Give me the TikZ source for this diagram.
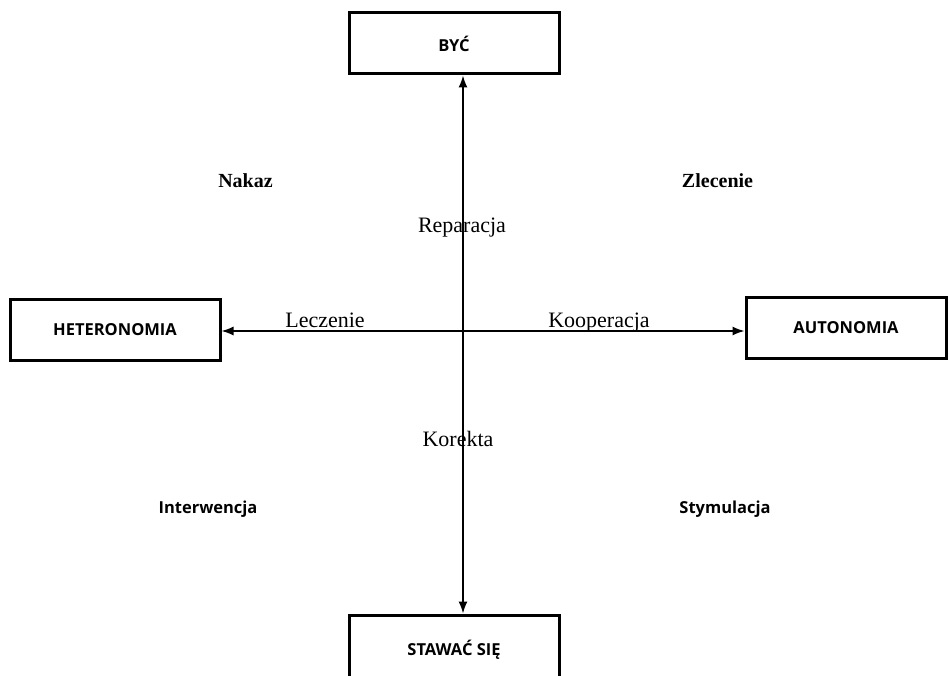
\documentclass[tikz,border=0pt]{standalone}
\usepackage{fontspec}
\newfontfamily\boxfont{Open Sans}
\newfontfamily\labfont{Liberation Serif}
\usetikzlibrary{arrows.meta}
\tikzset{<->/.style = {{Latex[length=12pt,width=9pt]}-{Latex[length=12pt,width=9pt]}}}

\begin{document}
\begin{tikzpicture}[x=1pt,y=-1pt,
    pole/.style={draw,line width=3pt,minimum width=210pt,minimum height=61pt,
        inner sep=0pt,font={\boxfont\bfseries\fontsize{16.5}{18}\selectfont}},
    quad/.style={font={\boxfont\bfseries\fontsize{16.5}{18}\selectfont}},
    quadserif/.style={font={\labfont\bfseries\fontsize{20}{22}\selectfont}},
    axlabel/.style={font={\labfont\fontsize{22}{24}\selectfont},inner sep=0pt,anchor=base},
    ]
    % Frame
    \clip (0,0) rectangle (949,676);
    \fill[white] (0,0) rectangle (949,676);

    % Poles
    \node[pole] (byc) at (454,43.5) {BYĆ};
    \node[pole,minimum height=75pt] (stawac) at (454,652.5) {\raisebox{9pt}{STAWAĆ SIĘ}};
    \node[pole] (hetero) at (115,330) {HETERONOMIA};
    \node[pole,minimum width=200pt] (auto) at (846,328) {AUTONOMIA};
    \coordinate (axis) at (463,331);

    % Axes
    \draw[<->,line width=1.5pt] (byc.south -| axis) -- (stawac.north -| axis);
    \draw[<->,line width=1.5pt] (hetero.east |- axis) -- (auto.west |- axis);

    % Axis labels
    \node[axlabel] (reparacja) at (462,233) {Reparacja};
    \node[axlabel] (korekta) at (458,446) {Korekta};
    \node[axlabel] (leczenie) at (325,327) {Leczenie};
    \node[axlabel] (kooperacja) at (599,327) {Kooperacja};

    % Quadrants
    \node[quadserif] (nakaz) at (245.5,181) {Nakaz};
    \node[quadserif] (zlecenie) at (717.5,181) {Zlecenie};
    \node[quad] (interwencja) at (208,509) {Interwencja};
    \node[quad] (stymulacja) at (725,509) {Stymulacja};

\end{tikzpicture}
\end{document}
